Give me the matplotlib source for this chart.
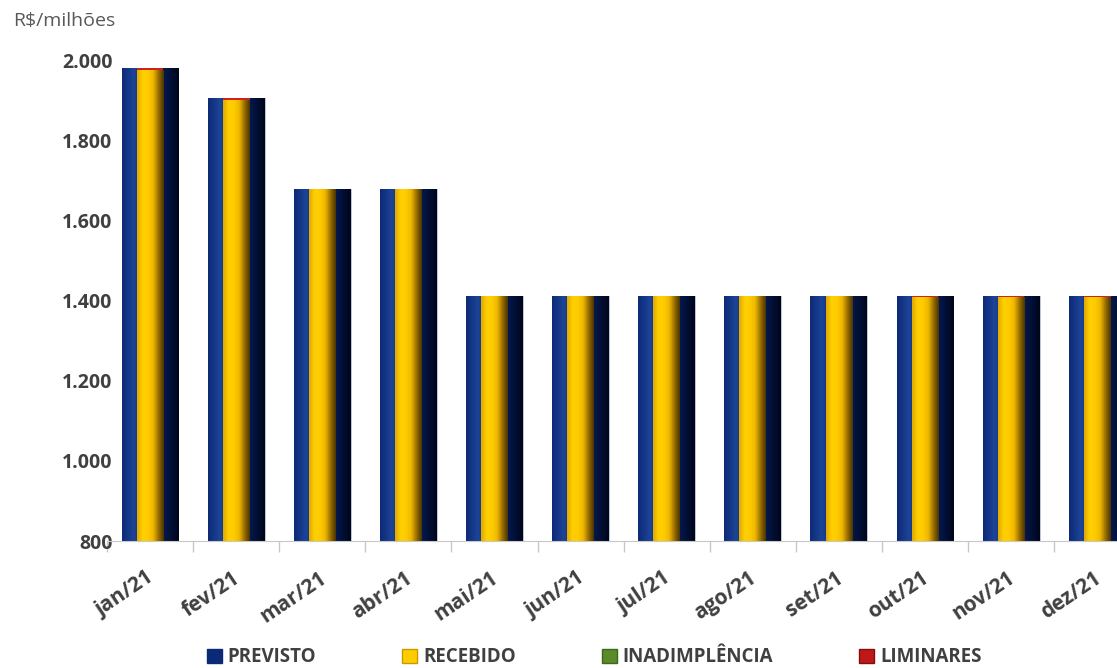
import numpy as np
import matplotlib
matplotlib.use('Agg')
import matplotlib.pyplot as plt
import matplotlib.transforms as mtransforms
from matplotlib.colors import LinearSegmentedColormap
from matplotlib.patches import Patch

meses = ['jan/21', 'fev/21', 'mar/21', 'abr/21', 'mai/21', 'jun/21',
         'jul/21', 'ago/21', 'set/21', 'out/21', 'nov/21', 'dez/21']
previsto = [1980, 1905, 1678, 1678, 1411, 1411, 1411, 1411, 1411, 1411, 1411, 1411]
liminares = [4, 4, 0, 0, 0, 0, 0, 0, 0, 3, 3, 3]
inadimplencia = [0] * 12
recebido = [p - l for p, l in zip(previsto, liminares)]

plt.rcParams['font.family'] = ['Open Sans', 'DejaVu Sans']

fig = plt.figure(figsize=(11.17, 6.68), dpi=100)
ax = fig.add_axes([0.0958, 0.19, 0.9042, 0.72])

x = np.arange(len(meses))
ymin = 800

# gradient colormaps to mimic the shaded bars
cm_azul = LinearSegmentedColormap.from_list('azul', ['#0d2a78', '#1d4496', '#0a2a78', '#082466', '#031443', '#00061a'])
cm_amarelo = LinearSegmentedColormap.from_list('amarelo', ['#e0a800', '#ffd000', '#ffcc00', '#f0b800', '#9a7000', '#4a3400'])
grad = np.linspace(0, 1, 64).reshape(1, -1)


def gradient_bars(bars, cmap):
    for b in bars:
        x0, y0 = b.get_x(), b.get_y()
        w, h = b.get_width(), b.get_height()
        if h <= 0:
            continue
        im = ax.imshow(grad, cmap=cmap, aspect='auto', extent=[x0, x0 + w, y0, y0 + h],
                       zorder=b.get_zorder() + 0.1, interpolation='bicubic')
        im.set_clip_path(b)


b_prev = ax.bar(x, [p - ymin for p in previsto], 0.66, bottom=ymin, color='#0a2a78',
                edgecolor='#c8cfe0', linewidth=0.6, zorder=2)
gradient_bars(b_prev, cm_azul)
b_rec = ax.bar(x, [r - ymin for r in recebido], 0.31, bottom=ymin, color='#ffcc00',
               linewidth=0, zorder=3)
gradient_bars(b_rec, cm_amarelo)
ax.bar(x, inadimplencia, 0.31, bottom=recebido, color='#5a8a2a', linewidth=0, zorder=4)
ax.bar(x, liminares, 0.31, bottom=recebido, color='#d02020', linewidth=0, zorder=4)

ax.set_yticks(range(800, 2001, 200))
ax.set_yticklabels(['{:,}'.format(v).replace(',', '.') for v in range(800, 2001, 200)],
                   fontsize=14, fontweight='bold', color='#404040')
ax.tick_params(axis='y', length=0, pad=-4)

ax.set_xticks(np.arange(-0.5, 12, 1), minor=True)
ax.set_xticks(x)
ax.set_xticklabels(meses, rotation=34, ha='right', rotation_mode='anchor',
                   fontsize=15, fontweight='bold', color='#404040')
ax.tick_params(axis='x', which='major', length=0, pad=19)
ax.tick_params(axis='x', which='minor', length=8, color='#c8c8c8', width=1)

# limits last, set_xticks would widen them otherwise
ax.set_xlim(-0.5, 11.23)
ax.set_ylim(ymin, 2000)

shift = mtransforms.ScaledTranslation(-4 / 100, 0, fig.dpi_scale_trans)
for lbl in ax.get_xticklabels():
    lbl.set_transform(lbl.get_transform() + shift)

for s in ['top', 'right', 'left']:
    ax.spines[s].set_visible(False)
ax.spines['bottom'].set_color('#c8c8c8')

fig.text(0.012, 0.968, 'R$/milhões', fontsize=14, color='#595959', ha='left', va='center')

handles = [Patch(facecolor='#0a2a78', edgecolor='#0a2a78'),
           Patch(facecolor='#ffcc00', edgecolor='#c89a00'),
           Patch(facecolor='#5a8a2a', edgecolor='#3a6a1a'),
           Patch(facecolor='#c01818', edgecolor='#801010')]
fig.legend(handles, ['PREVISTO', 'RECEBIDO', 'INADIMPLÊNCIA', 'LIMINARES'],
           loc='center', bbox_to_anchor=(0.532, 0.016), ncol=4, frameon=False,
           prop={'size': 13.5, 'weight': 'bold'}, labelcolor='#404040',
           handlelength=0.8, handleheight=0.8, handletextpad=0.3, columnspacing=4.6)

fig.savefig('out.png', dpi=100)
